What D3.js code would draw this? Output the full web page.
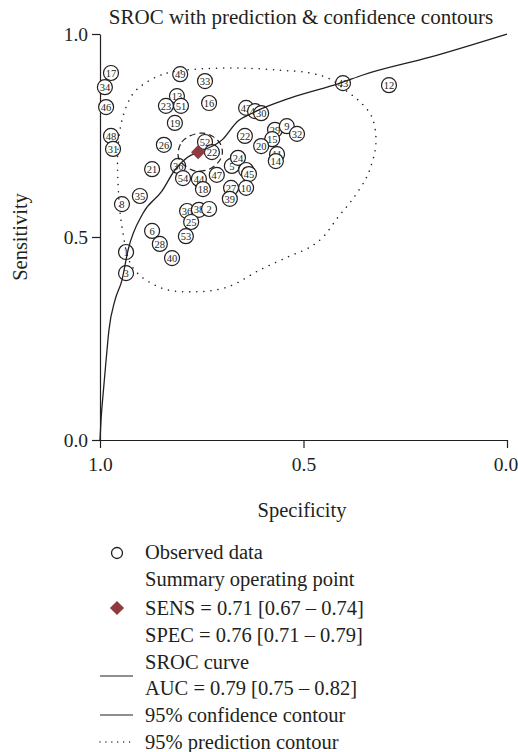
<!DOCTYPE html>
<html>
<head>
<meta charset="utf-8">
<script src="https://cdn.jsdelivr.net/npm/d3@7"></script>
<style>
  body { margin: 0; background: #fff; }
  svg { font-family: "Liberation Serif", "Times New Roman", serif; }
</style>
</head>
<body>
<script>
// study points: label, specificity, sensitivity
const labels = ["17","49","33","34","13","46","23","51","16","42","44","30","43","12","19","22","29","9","32","15","20","48","26","52","22","31","21","36","54","44","47","5","24","41","45","11","14","27","10","39","18","35","8","36","38","2","25","6","53","28","40","1","3"];
const spec = [0.973,0.803,0.742,0.988,0.811,0.985,0.838,0.801,0.732,0.641,0.619,0.604,0.403,0.290,0.816,0.644,0.570,0.541,0.516,0.577,0.604,0.973,0.843,0.742,0.725,0.968,0.872,0.808,0.796,0.757,0.713,0.676,0.661,0.641,0.634,0.565,0.568,0.678,0.641,0.681,0.747,0.902,0.946,0.786,0.757,0.732,0.776,0.872,0.789,0.853,0.823,0.936,0.936];
const sens = [0.904,0.901,0.884,0.869,0.847,0.820,0.823,0.823,0.830,0.818,0.810,0.805,0.879,0.874,0.781,0.749,0.764,0.773,0.754,0.741,0.724,0.749,0.727,0.734,0.709,0.717,0.667,0.675,0.645,0.643,0.653,0.675,0.695,0.665,0.655,0.704,0.687,0.621,0.621,0.594,0.618,0.601,0.581,0.564,0.567,0.569,0.537,0.515,0.502,0.483,0.448,0.463,0.411];

// summary operating point
const summary = { spec: 0.759, sens: 0.709 };

// SROC curve (1 - specificity, sensitivity)
const srocFpr = [0, 0.0025, 0.007, 0.015, 0.022, 0.037, 0.054, 0.069, 0.106, 0.152, 0.184, 0.216, 0.241, 0.302, 0.337, 0.376, 0.467, 0.590, 0.646, 0.811, 1];
const srocSens = [0, 0.049, 0.106, 0.197, 0.271, 0.345, 0.394, 0.468, 0.559, 0.613, 0.665, 0.697, 0.709, 0.741, 0.784, 0.806, 0.842, 0.879, 0.899, 0.943, 1];

// 95% confidence contour
const confFpr = [0.192,0.201,0.221,0.253,0.280,0.297,0.300,0.287,0.263,0.233,0.209,0.194];
const confSens = [0.709,0.734,0.749,0.756,0.746,0.727,0.702,0.680,0.665,0.663,0.675,0.692];

// 95% prediction contour
const predFpr = [0.111,0.165,0.246,0.344,0.442,0.516,0.565,0.609,0.639,0.668,0.678,0.676,0.668,0.654,0.619,0.585,0.548,0.516,0.462,0.393,0.314,0.233,0.152,0.081,0.054,0.044,0.044,0.054,0.079];
const predSens = [0.879,0.904,0.914,0.916,0.911,0.904,0.889,0.857,0.833,0.796,0.746,0.714,0.682,0.645,0.591,0.549,0.500,0.475,0.451,0.419,0.377,0.365,0.374,0.424,0.525,0.640,0.714,0.788,0.850];

const tickVals = [0, 0.5, 1];

const legendItems = [
  "Observed data",
  "Summary operating point",
  "SENS = 0.71 [0.67 \u2013 0.74]",
  "SPEC = 0.76 [0.71 \u2013 0.79]",
  "SROC curve",
  "AUC = 0.79 [0.75 \u2013 0.82]",
  "95% confidence contour",
  "95% prediction contour"
];

const W = 518, H = 752;
const ink = "#231f20";
const red = "#8e3a3f";

const svg = d3.select("body").append("svg")
  .attr("width", W)
  .attr("height", H);

const x = d3.scaleLinear().domain([1, 0]).range([100, 507]);
const y = d3.scaleLinear().domain([0, 1]).range([440, 34]);

// axes
const yAxis = svg.append("g")
  .attr("transform", "translate(100,0)")
  .call(d3.axisLeft(y).tickValues(tickVals).tickFormat(d3.format(".1f")).tickSize(8).tickSizeOuter(0).tickPadding(4));
const xAxis = svg.append("g")
  .attr("transform", "translate(0,440)")
  .call(d3.axisBottom(x).tickValues(tickVals).tickFormat(d3.format(".1f")).tickSize(8).tickSizeOuter(0).tickPadding(9));
[xAxis, yAxis].forEach(a => {
  a.selectAll("path, line").attr("stroke", ink).attr("stroke-width", 1.2);
  a.selectAll("text").attr("fill", ink).style("font-size", "19.5px").style("font-family", "Liberation Serif, serif");
});
// keep the right-most label inside the page
xAxis.selectAll(".tick text").filter(d => d === 0).attr("dx", "-1.5px");

// title and axis labels
svg.append("text")
  .attr("x", 301).attr("y", 24)
  .attr("text-anchor", "middle")
  .attr("fill", ink)
  .style("font-size", "21px")
  .text("SROC with prediction & confidence contours");

svg.append("text")
  .attr("transform", "translate(27,237) rotate(-90)")
  .attr("text-anchor", "middle")
  .attr("fill", ink)
  .style("font-size", "20.5px")
  .text("Sensitivity");

svg.append("text")
  .attr("x", 302).attr("y", 517)
  .attr("text-anchor", "middle")
  .attr("fill", ink)
  .style("font-size", "20.5px")
  .text("Specificity");

// study circles
const pts = labels.map((l, i) => ({ label: l, spec: spec[i], sens: sens[i] }));
const g = svg.append("g").selectAll("g").data(pts).enter().append("g")
  .attr("transform", d => `translate(${x(d.spec)},${y(d.sens)})`);
g.append("circle")
  .attr("r", 7.5)
  .attr("fill", "#fff")
  .attr("stroke", ink)
  .attr("stroke-width", 1.2);
g.append("text")
  .attr("text-anchor", "middle")
  .attr("dy", "0.35em")
  .attr("fill", ink)
  .style("font-size", "10.5px")
  .text(d => d.label);

// curves
const fprToX = f => x(1 - f);
const sroc = srocFpr.map((f, i) => [fprToX(f), y(srocSens[i])]);
svg.append("path")
  .attr("d", d3.line().curve(d3.curveMonotoneX)(sroc))
  .attr("fill", "none")
  .attr("stroke", ink)
  .attr("stroke-width", 1.3);

const conf = confFpr.map((f, i) => [fprToX(f), y(confSens[i])]);
svg.append("path")
  .attr("d", d3.line().curve(d3.curveCatmullRomClosed)(conf))
  .attr("fill", "none")
  .attr("stroke", ink)
  .attr("stroke-width", 1.2)
  .attr("stroke-dasharray", "6,4");

const pred = predFpr.map((f, i) => [fprToX(f), y(predSens[i])]);
svg.append("path")
  .attr("d", d3.line().curve(d3.curveCatmullRomClosed)(pred))
  .attr("fill", "none")
  .attr("stroke", ink)
  .attr("stroke-width", 1.5)
  .attr("stroke-linecap", "round")
  .attr("stroke-dasharray", "0.1,7");

// summary point
const diamond = d3.symbol().type(d3.symbolSquare).size(100);
svg.append("path")
  .attr("d", diamond())
  .attr("fill", red)
  .attr("transform", `translate(${x(summary.spec)},${y(summary.sens)}) rotate(45)`);

// legend
const legendY = [552, 579, 608, 635, 662, 688, 715, 742];
const leg = svg.append("g");
leg.selectAll("text").data(legendItems).enter().append("text")
  .attr("x", 145)
  .attr("y", (d, i) => legendY[i])
  .attr("dy", "0.35em")
  .attr("fill", ink)
  .style("font-size", "20.5px")
  .text(d => d);

leg.append("circle")
  .attr("cx", 117).attr("cy", 553).attr("r", 5.5)
  .attr("fill", "#fff").attr("stroke", ink).attr("stroke-width", 1.3);
leg.append("path")
  .attr("d", diamond())
  .attr("fill", red)
  .attr("transform", "translate(117,608) rotate(45)");
leg.append("line")
  .attr("x1", 100).attr("x2", 133).attr("y1", 676).attr("y2", 676)
  .attr("stroke", ink).attr("stroke-width", 1.2);
leg.append("line")
  .attr("x1", 100).attr("x2", 133).attr("y1", 715).attr("y2", 715)
  .attr("stroke", ink).attr("stroke-width", 1.2);
leg.append("line")
  .attr("x1", 100).attr("x2", 135).attr("y1", 742).attr("y2", 742)
  .attr("stroke", ink).attr("stroke-width", 1.3)
  .attr("stroke-linecap", "round")
  .attr("stroke-dasharray", "0.1,5.8");
</script>
</body>
</html>
